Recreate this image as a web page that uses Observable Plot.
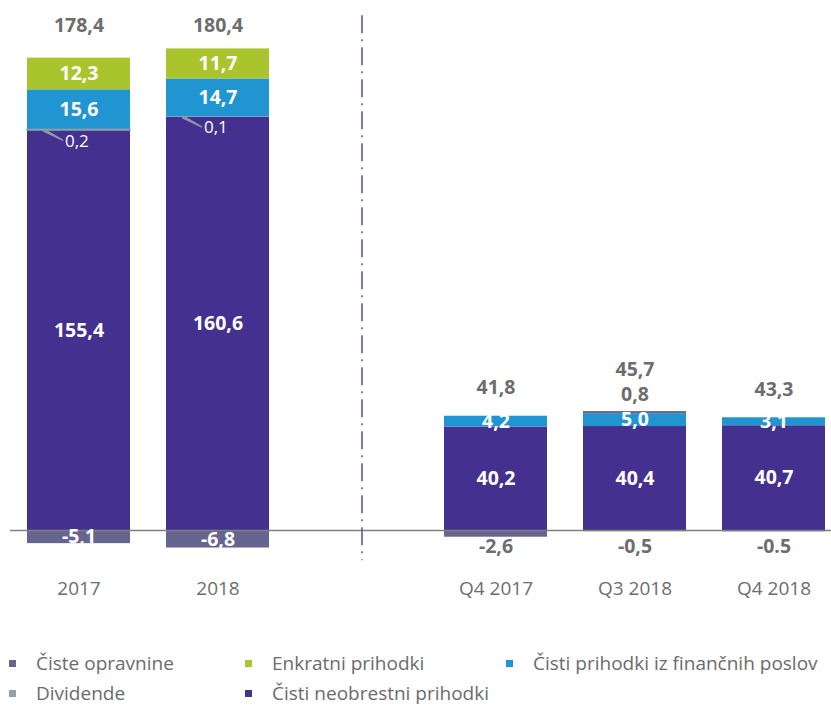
<!DOCTYPE html>
<html>
<head>
<meta charset="utf-8">
<script src="https://cdn.jsdelivr.net/npm/d3@7"></script>
<script src="https://cdn.jsdelivr.net/npm/@observablehq/plot@0.6"></script>
<style>
  html, body { margin: 0; padding: 0; background: #fff; }
  #wrap { width: 831px; position: relative; font-family: "Open Sans", sans-serif; }
  #legend { position: relative; width: 831px; height: 86px; color: #6b6b6b; font-size: 19px; }
  .li { position: absolute; white-space: nowrap; line-height: 22px; }
  .sw { position: absolute; width: 7px; height: 7px; }
</style>
</head>
<body>
<div id="wrap">
  <div id="chart"></div>
  <div id="legend"></div>
</div>
<script>
const categories = ["2017", "2018", "Q4 2017", "Q3 2018", "Q4 2018"];
const series = ["Čisti neobrestni prihodki", "Dividende", "Čisti prihodki iz finančnih poslov", "Enkratni prihodki", "Čiste opravnine"];
const colors = ["#44308f", "#8ea3ab", "#2195d1", "#a9c42c", "#65658f"];

const neobrestni = [155.4, 160.6, 40.2, 40.4, 40.7];
const dividende  = [0.2, 0.1, 0, 0, 0];
const financni   = [15.6, 14.7, 4.2, 5.0, 3.1];
const enkratni   = [12.3, 11.7, 0, -0.5, 0];
const opravnine  = [-5.1, -6.8, -2.6, 0.8, -0.5];
const totals     = [178.4, 180.4, 41.8, 45.7, 43.3];

const labelsNeobrestni = ["155,4", "160,6", "40,2", "40,4", "40,7"];
const labelsDividende  = ["0,2", "0,1", "", "", ""];
const labelsFinancni   = ["15,6", "14,7", "4,2", "5,0", "3,1"];
const labelsEnkratni   = ["12,3", "11,7", "", "-0,5", ""];
const labelsOpravnine  = ["-5,1", "-6,8", "-2,6", "0,8", "-0.5"];
const labelsTotals     = ["178,4", "180,4", "41,8", "45,7", "43,3"];

const xDomain = ["2017", "2018", "", "Q4 2017", "Q3 2018", "Q4 2018"];
const annual = ["2017", "2018"];

const valueArrays = [neobrestni, dividende, financni, enkratni, opravnine];
const labelArrays = [labelsNeobrestni, labelsDividende, labelsFinancni, labelsEnkratni, labelsOpravnine];

const rows = [];
categories.forEach((cat, i) => {
  series.forEach((s, j) => {
    rows.push({cat, series: s, value: valueArrays[j][i], label: labelArrays[j][i]});
  });
});

const isInside = d => {
  if (d.series === "Čisti neobrestni prihodki" || d.series === "Čisti prihodki iz finančnih poslov") return true;
  if (d.series === "Enkratni prihodki") return d.value > 0;
  if (d.series === "Čiste opravnine") return annual.includes(d.cat);
  return false;
};
const isBelowZero = d => !annual.includes(d.cat) && d.value < 0;
const isAboveTop = d => !annual.includes(d.cat) && d.series === "Čiste opravnine" && d.value > 0;

const totalRows = categories.map((cat, i) => ({
  cat,
  label: labelsTotals[i],
  top: valueArrays.reduce((s, arr) => s + Math.max(0, arr[i]), 0),
  extra: valueArrays.some((arr, j) => series[j] === "Čiste opravnine" && arr[i] > 0)
}));

const divRows = categories.map((cat, i) => ({
  cat, label: labelsDividende[i], mid: neobrestni[i] + dividende[i] / 2
})).filter(d => d.label);

const gray = "#6d6d6d";
const fs = 19.5;
const stackOpts = {x: "cat", y: "value", z: "series", order: series};

const chart = Plot.plot({
  width: 831,
  height: 620,
  marginTop: 10,
  marginLeft: 10,
  marginRight: 0,
  marginBottom: 50,
  x: {domain: xDomain, range: [10, 842], paddingInner: 0.259, paddingOuter: 0.122, tickSize: 0, tickPadding: 11, label: null},
  y: {domain: [-20, 200], range: [581.5, 15.2], axis: null},
  color: {domain: series, range: colors},
  style: {fontFamily: "Open Sans", fontSize: "19px", color: gray, background: "#fff"},
  marks: [
    Plot.barY(rows, Plot.stackY({...stackOpts, fill: "series"})),
    Plot.barY(rows, Plot.stackY({...stackOpts, fill: "none", stroke: "#8ea3ab", strokeWidth: 1.5,
      strokeOpacity: d => (d.series === "Dividende" && d.value >= 0.15) ? 1 : 0})),
    Plot.ruleY([0], {stroke: "#7f7f7f", strokeWidth: 1.5}),
    Plot.ruleX([""], {x: d => d, y1: 200, y2: -11.7, dx: 5, stroke: "#5b4aa6", strokeWidth: 1.5, strokeDasharray: "18,6,2,6"}),
    Plot.text(rows, Plot.stackY({...stackOpts, text: d => isInside(d) ? d.label : "", fill: "white", fontWeight: "bold", fontSize: fs})),
    Plot.text(rows, Plot.stackY2({...stackOpts, text: d => isAboveTop(d) ? d.label : "", fill: gray, fontWeight: "bold", fontSize: fs, dy: -17})),
    Plot.text(rows.filter(isBelowZero), {x: "cat", y: () => 0, text: "label", fill: gray, fontWeight: "bold", fontSize: fs, dy: 16}),
    Plot.vector(divRows, {x: "cat", y: "mid", length: 21, rotate: 118, anchor: "start", shape: "spike", r: 1, stroke: "#8a9aa3", fill: "#8a9aa3", strokeWidth: 1.5, dx: -35}),
    Plot.text(divRows, {x: "cat", y: "mid", text: "label", fill: "white", fontSize: 17, textAnchor: "start", dx: -14, dy: 11}),
    Plot.text(totalRows.filter(d => annual.includes(d.cat)), {x: "cat", text: "label", frameAnchor: "top", dy: 8, fill: gray, fontWeight: "bold", fontSize: fs}),
    Plot.text(totalRows.filter(d => !annual.includes(d.cat) && !d.extra), {x: "cat", y: "top", text: "label", dy: -28, fill: gray, fontWeight: "bold", fontSize: fs}),
    Plot.text(totalRows.filter(d => !annual.includes(d.cat) && d.extra), {x: "cat", y: "top", text: "label", dy: -42, fill: gray, fontWeight: "bold", fontSize: fs})
  ]
});
document.getElementById("chart").appendChild(chart);

const legendItems = [
  {name: "Čiste opravnine", col: 0, row: 0},
  {name: "Enkratni prihodki", col: 1, row: 0},
  {name: "Čisti prihodki iz finančnih poslov", col: 2, row: 0},
  {name: "Dividende", col: 0, row: 1},
  {name: "Čisti neobrestni prihodki", col: 1, row: 1}
];
const colX = [9, 245, 506];
const rowY = [44, 74];
const legend = d3.select("#legend");
legendItems.forEach(it => {
  const c = colors[series.indexOf(it.name)];
  legend.append("div").attr("class", "sw")
    .style("left", colX[it.col] + "px").style("top", (rowY[it.row] - 4) + "px").style("background", c);
  legend.append("div").attr("class", "li")
    .style("left", (colX[it.col] + 27) + "px").style("top", (rowY[it.row] - 12) + "px").text(it.name);
});
</script>
</body>
</html>
